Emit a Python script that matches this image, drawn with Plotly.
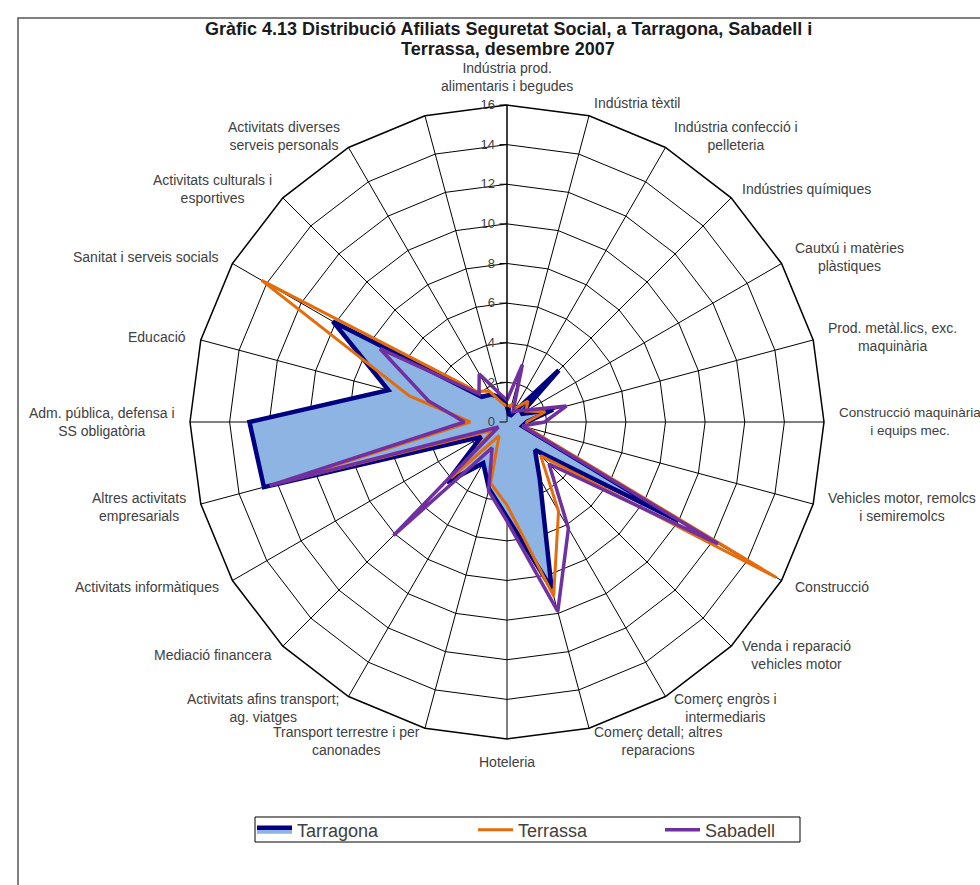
import math
import plotly.graph_objects as go

# Sectors, clockwise from the top (the last spoke carries no label on the chart)
categories = [
    "Indústria prod.<br>alimentaris i begudes",
    "Indústria tèxtil",
    "Indústria confecció i<br>pelleteria",
    "Indústries químiques",
    "Cautxú i matèries<br>plàstiques",
    "Prod. metàl.lics, exc.<br>maquinària",
    "Construcció maquinària<br>i equips mec.",
    "Vehicles motor, remolcs<br>i semiremolcs",
    "Construcció",
    "Venda i reparació<br>vehicles motor",
    "Comerç engròs i<br>intermediaris",
    "Comerç detall; altres<br>reparacions",
    "Hoteleria",
    "Transport terrestre i per<br>canonades",
    "Activitats afins transport;<br>ag. viatges",
    "Mediació financera",
    "Activitats informàtiques",
    "Altres activitats<br>empresarials",
    "Adm. pública, defensa i<br>SS obligatòria",
    "Educació",
    "Sanitat i serveis socials",
    "Activitats culturals i<br>esportives",
    "Activitats diverses<br>serveis personals",
    " ",
]

# Share of Social Security affiliates by sector (%)
tarragona = [0.8, 0.4, 0.4, 3.7, 0.8, 2.4, 1.0, 0.8, 10.0, 2.0, 3.3, 8.7,
             4.8, 3.5, 2.4, 4.3, 1.5, 12.7, 13.0, 6.2, 10.15, 1.8, 1.6, 1.3]
terrassa = [0.8, 0.9, 0.8, 1.5, 1.1, 2.0, 1.0, 1.0, 15.7, 2.4, 5.2, 9.1,
            4.2, 3.2, 0.8, 4.0, 0.8, 11.8, 1.85, 5.1, 14.3, 2.2, 1.8, 1.0]
sabadell = [1.1, 3.0, 0.6, 0.8, 1.2, 3.1, 1.9, 0.8, 12.3, 3.0, 6.2, 9.9,
            5.0, 3.6, 1.5, 8.1, 0.5, 12.4, 2.15, 4.1, 7.4, 2.0, 2.8, 1.5]

radial_ticks = [0, 2, 4, 6, 8, 10, 12, 14, 16]

title_lines = [
    "Gràfic 4.13 Distribució Afiliats Seguretat Social, a Tarragona, Sabadell i",
    "Terrassa, desembre 2007",
]

W, H = 980, 885
cx, cy, R = 507, 422, 317      # polar centre and outer radius, in pixels
LABEL_GAP = 13                 # distance of sector labels beyond the outer ring

FONT = "Liberation Sans, Arial, sans-serif"
TEXT = "#404040"


def closed(vals):
    return list(vals) + [vals[0]]


theta = closed(categories)

fig = go.Figure()
fig.add_trace(go.Scatterpolar(
    r=closed(tarragona), theta=theta, name="Tarragona", mode="lines",
    fill="toself", fillcolor="#8EB4E3",
    line=dict(color="#000080", width=4.5), legend="legend",
))
fig.add_trace(go.Scatterpolar(
    r=closed(terrassa), theta=theta, name="Terrassa", mode="lines",
    line=dict(color="#E46C0A", width=3), legend="legend2",
))
fig.add_trace(go.Scatterpolar(
    r=closed(sabadell), theta=theta, name="Sabadell", mode="lines",
    line=dict(color="#7030A0", width=3.5), legend="legend3",
))

# Sector labels: placed just outside the outer ring, anchored on the side
# facing away from the centre, with multi-line text centred.
annotations = []
n = len(categories)
for i, lab in enumerate(categories):
    if not lab.strip():
        continue
    ang = math.radians(360.0 * i / n)
    s, c = math.sin(ang), math.cos(ang)
    gap = 9 if c > 0.99 else LABEL_GAP
    px = cx + (R + gap) * s
    py = cy - (R + gap) * c
    if abs(s) < 0.05:
        xa = "center"
        ya = "bottom" if c > 0 else "top"
    else:
        xa = "left" if s > 0 else "right"
        ya = "middle"
    size = 13.5 if i == 6 else 14
    annotations.append(dict(
        text=lab, xref="paper", yref="paper",
        x=px / W, y=1 - py / H, xanchor=xa, yanchor=ya,
        align="center", showarrow=False,
        font=dict(family=FONT, size=size, color=TEXT),
    ))

# Two-line bold title
for line, ty in zip(title_lines, [29, 49]):
    annotations.append(dict(
        text=f"<b>{line}</b>", xref="paper", yref="paper",
        x=508 / W, y=1 - ty / H, xanchor="center", yanchor="middle",
        showarrow=False,
        font=dict(family=FONT, size=18, color="#1a1a1a"),
    ))

# legend frame (drawn as a shape so its extent can be set exactly)
lx0, lx1, ly0, ly1 = 255, 800, 817, 842
legend_mid = (ly0 + ly1) / 2 + 0.5


def legend_at(x_px):
    return dict(
        orientation="h",
        x=x_px / W, xanchor="left",
        y=1 - legend_mid / H, yanchor="middle",
        borderwidth=0,
        bgcolor="rgba(0,0,0,0)",
        font=dict(family=FONT, size=18, color=TEXT),
        itemwidth=35,
    )


fig.update_layout(
    width=W, height=H,
    margin=dict(l=0, r=0, t=0, b=0),
    paper_bgcolor="white",
    plot_bgcolor="white",
    font=dict(family=FONT, color=TEXT, size=14),
    polar=dict(
        domain=dict(x=[(cx - R) / W, (cx + R) / W],
                    y=[(H - cy - R) / H, (H - cy + R) / H]),
        bgcolor="white",
        gridshape="linear",
        angularaxis=dict(
            type="category",
            categoryarray=categories,
            direction="clockwise",
            rotation=90,
            showgrid=True, gridcolor="black", gridwidth=1,
            showline=True, linecolor="black", linewidth=1.5,
            ticks="", showticklabels=False,
        ),
        radialaxis=dict(
            range=[0, 16],
            tickvals=radial_ticks,
            ticktext=[str(v) for v in radial_ticks],
            angle=90,
            side="counterclockwise",
            tickangle=90,
            showgrid=True, gridcolor="black", gridwidth=1,
            showline=True, linecolor="black", linewidth=1,
            ticks="outside", ticklen=7, tickcolor="black",
            tickfont=dict(family=FONT, size=13, color=TEXT),
        ),
    ),
    showlegend=True,
    legend=legend_at(252),
    legend2=legend_at(473),
    legend3=legend_at(660),
    annotations=annotations,
    shapes=[
        dict(
            type="rect", xref="paper", yref="paper",
            x0=18 / W, x1=1.05, y0=-0.05, y1=1 - 18 / H,
            line=dict(color="#555555", width=1.5),
            fillcolor="rgba(0,0,0,0)", layer="below",
        ),
        dict(
            type="rect", xref="paper", yref="paper",
            x0=lx0 / W, x1=lx1 / W, y0=1 - ly1 / H, y1=1 - ly0 / H,
            line=dict(color="black", width=1),
            fillcolor="white", layer="below",
        ),
    ],
)

fig.write_html("out.html")
